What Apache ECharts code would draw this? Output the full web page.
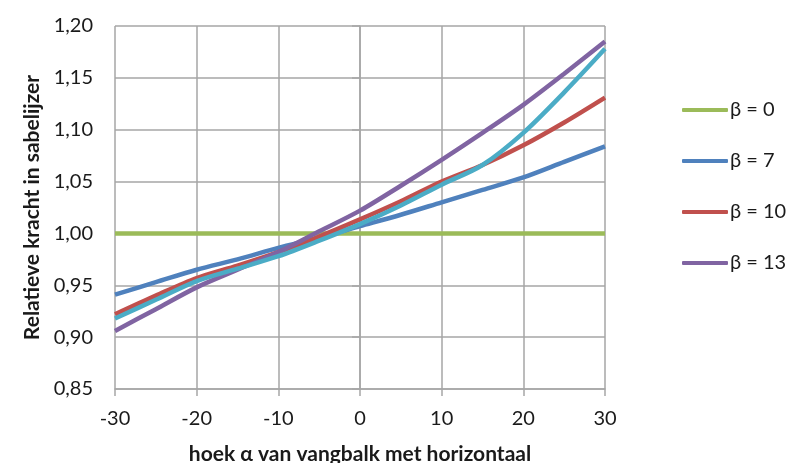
<!DOCTYPE html>
<html>
<head>
<meta charset="utf-8">
<script src="https://cdn.jsdelivr.net/npm/echarts@6/dist/echarts.min.js"></script>
<style>
html,body{margin:0;padding:0;background:#fff;}
#c{width:788px;height:463px;}
</style>
</head>
<body>
<div id="c"></div>
<script>
const alpha = [-30, -25, -20, -15, -10, -5, 0, 5, 10, 15, 20, 25, 30];
const beta0  = [1.000, 1.000, 1.000, 1.000, 1.000, 1.000, 1.000, 1.000, 1.000, 1.000, 1.000, 1.000, 1.000];
const beta7  = [0.941, 0.953, 0.965, 0.975, 0.986, 0.996, 1.007, 1.018, 1.030, 1.042, 1.054, 1.069, 1.084];
const beta10 = [0.922, 0.940, 0.957, 0.969, 0.982, 0.997, 1.0135, 1.031, 1.050, 1.066, 1.085, 1.107, 1.131];
const beta13 = [0.906, 0.927, 0.948, 0.965, 0.982, 1.002, 1.022, 1.046, 1.071, 1.097, 1.124, 1.154, 1.185];
const extra  = [0.918, 0.936, 0.954, 0.966, 0.978, 0.993, 1.009, 1.027, 1.047, 1.066, 1.097, 1.136, 1.178];
const legendNames = ['β = 0', 'β = 7', 'β = 10', 'β = 13'];
const xTitle = 'hoek α van vangbalk met horizontaal';
const yTitle = 'Relatieve kracht in sabelijzer';

const pairs = arr => alpha.map((a, i) => [a, arr[i]]);
const font = 'Lato, "Open Sans", "Noto Sans", sans-serif';

function mk(name, arr, color) {
  return {
    name: name, type: 'line', data: pairs(arr), smooth: 0.3,
    symbol: 'none', lineStyle: { color: color, width: 4.5 },
    itemStyle: { color: color }, animation: false
  };
}

const chart = echarts.init(document.getElementById('c'), null, { renderer: 'canvas' });
chart.setOption({
  backgroundColor: '#ffffff',
  animation: false,
  grid: { left: 115, right: 183, top: 26, bottom: 74, containLabel: false, outerBoundsMode: 'none' },
  legend: {
    data: legendNames,
    orient: 'vertical',
    left: 677, top: 95,
    itemWidth: 46, itemHeight: 4, itemGap: 31,
    icon: 'roundRect',
    textStyle: { fontSize: 20, color: '#1a1a1a', fontFamily: font, padding: [0, 0, 0, -3] }
  },
  xAxis: {
    type: 'value', min: -30, max: 30, interval: 10,
    name: xTitle, nameLocation: 'middle', nameGap: 55,
    nameTextStyle: { fontSize: 21, fontWeight: 'bold', color: '#1a1a1a', fontFamily: font },
    axisLine: { show: true, lineStyle: { color: '#a6a6a6', width: 1.5 } },
    axisTick: { show: true, length: 7, lineStyle: { color: '#a6a6a6', width: 1.5 } },
    axisLabel: { fontSize: 20, color: '#1a1a1a', margin: 20, fontFamily: font },
    splitLine: { show: true, lineStyle: { color: '#a6a6a6', width: 1.5 } }
  },
  yAxis: {
    type: 'value', min: 0.85, max: 1.20, interval: 0.05,
    name: yTitle, nameLocation: 'middle', nameGap: 72, nameRotate: 90,
    nameTextStyle: { fontSize: 21, fontWeight: 'bold', color: '#1a1a1a', fontFamily: font },
    axisLine: { show: true, lineStyle: { color: '#a6a6a6', width: 1.5 } },
    axisTick: { show: true, length: 8, lineStyle: { color: '#a6a6a6', width: 1.5 } },
    axisLabel: { fontSize: 20, color: '#1a1a1a', margin: 22, fontFamily: font,
      formatter: v => v.toFixed(2).replace('.', ',') },
    splitLine: { show: true, lineStyle: { color: '#a6a6a6', width: 1.5 } }
  },
  series: [
    mk('β = 0', beta0, '#9BBB59'),
    mk('β = 7', beta7, '#4F81BD'),
    mk('β = 10', beta10, '#C0504D'),
    mk('β = 13', beta13, '#8064A2'),
    mk('extra', extra, '#4BACC6')
  ]
});
</script>
</body>
</html>
